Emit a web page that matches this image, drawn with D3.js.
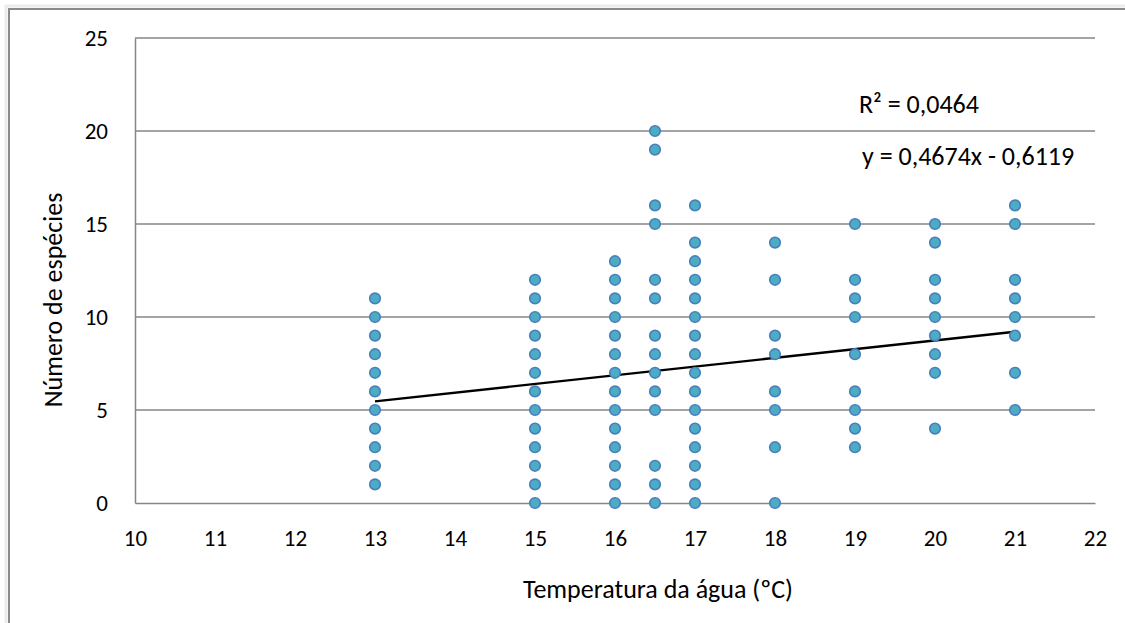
<!DOCTYPE html>
<html>
<head>
<meta charset="utf-8">
<script src="https://cdn.jsdelivr.net/npm/d3@7"></script>
<style>
  html, body { margin: 0; padding: 0; background: #fff; overflow: hidden; }
  svg { display: block; }
  text { font-family: Carlito, Lato, "Open Sans", sans-serif; fill: #000; }
</style>
</head>
<body>
<svg id="chart" width="1125" height="623"></svg>
<script>
// ---- data ----
const temperatures = [13, 15, 16, 16.5, 17, 18, 19, 20, 21];
const speciesCounts = [
  [1, 2, 3, 4, 5, 6, 7, 8, 9, 10, 11],
  [0, 1, 2, 3, 4, 5, 6, 7, 8, 9, 10, 11, 12],
  [0, 1, 2, 3, 4, 5, 6, 7, 8, 9, 10, 11, 12, 13],
  [0, 1, 2, 5, 6, 7, 8, 9, 11, 12, 15, 16, 19, 20],
  [0, 1, 2, 3, 4, 5, 6, 7, 8, 9, 10, 11, 12, 13, 14, 16],
  [0, 3, 5, 6, 8, 9, 12, 14],
  [3, 4, 5, 6, 8, 10, 11, 12, 15],
  [4, 7, 8, 9, 10, 11, 12, 14, 15],
  [5, 7, 9, 10, 11, 12, 15, 16]
];
const xTicks = [10, 11, 12, 13, 14, 15, 16, 17, 18, 19, 20, 21, 22];
const yTicks = [0, 5, 10, 15, 20, 25];
const trendSlope = 0.4674;
const trendIntercept = -0.6119;
const trendRange = [13, 21];
const xTitle = "Temperatura da água (ºC)";
const yTitle = "Número de espécies";
const r2Label = "R² = 0,0464";
const eqLabel = "y = 0,4674x - 0,6119";

const points = [];
temperatures.forEach((t, i) => speciesCounts[i].forEach(v => points.push({x: t, y: v})));

// ---- layout ----
const svg = d3.select("#chart");
const plotLeft = 135, plotRight = 1095, plotTop = 38, plotBottom = 503;
const x = d3.scaleLinear().domain([10, 22]).range([plotLeft, plotRight]);
const y = d3.scaleLinear().domain([0, 25]).range([plotBottom, plotTop]);
const gridColor = "#868686";

// outer frame (top and left edges visible; chart area continues past the picture)
svg.append("path").attr("d", "M6,640 L6,6 L1140,6")
  .attr("fill", "none").attr("stroke", "#ececec").attr("stroke-width", 3);
svg.append("path").attr("d", "M9,640 L9,9 L1140,9")
  .attr("fill", "none").attr("stroke", "#8a8a8a").attr("stroke-width", 2);

// gridlines
svg.append("g").selectAll("line").data(yTicks.filter(d => d > 0)).join("line")
  .attr("x1", plotLeft).attr("x2", plotRight)
  .attr("y1", d => y(d)).attr("y2", d => y(d))
  .attr("stroke", gridColor).attr("stroke-width", 1.5);

// axes
const yAxis = svg.append("g").attr("transform", `translate(${plotLeft},0)`)
  .call(d3.axisLeft(y).tickValues(yTicks).tickSize(0).tickPadding(27).tickFormat(d3.format("d")));
const xAxis = svg.append("g").attr("transform", `translate(0,${plotBottom})`)
  .call(d3.axisBottom(x).tickValues(xTicks).tickSize(0).tickPadding(27).tickFormat(d3.format("d")));
[yAxis, xAxis].forEach(g => {
  g.select(".domain").attr("stroke", gridColor).attr("stroke-width", 1.5);
  g.selectAll("text").attr("font-family", "Carlito, Lato, sans-serif").attr("font-size", 23).attr("fill", "#000");
});

// trendline
svg.append("line")
  .attr("x1", x(trendRange[0])).attr("y1", y(trendSlope * trendRange[0] + trendIntercept))
  .attr("x2", x(trendRange[1])).attr("y2", y(trendSlope * trendRange[1] + trendIntercept))
  .attr("stroke", "#000").attr("stroke-width", 2.4);

// points
svg.append("g").selectAll("circle").data(points).join("circle")
  .attr("cx", d => x(d.x)).attr("cy", d => y(d.y)).attr("r", 5.3)
  .attr("fill", "#4bacc6").attr("stroke", "#4a7ebb").attr("stroke-width", 1.6);

// labels
svg.append("text").attr("x", 859).attr("y", 113).attr("font-size", 26).text(r2Label);
svg.append("text").attr("x", 862).attr("y", 165).attr("font-size", 26).text(eqLabel);
svg.append("text").attr("x", 658).attr("y", 598).attr("font-size", 26)
  .attr("text-anchor", "middle").text(xTitle);
svg.append("text").attr("transform", `translate(62,300) rotate(-90)`)
  .attr("font-size", 26).attr("text-anchor", "middle").text(yTitle);
</script>
</body>
</html>
